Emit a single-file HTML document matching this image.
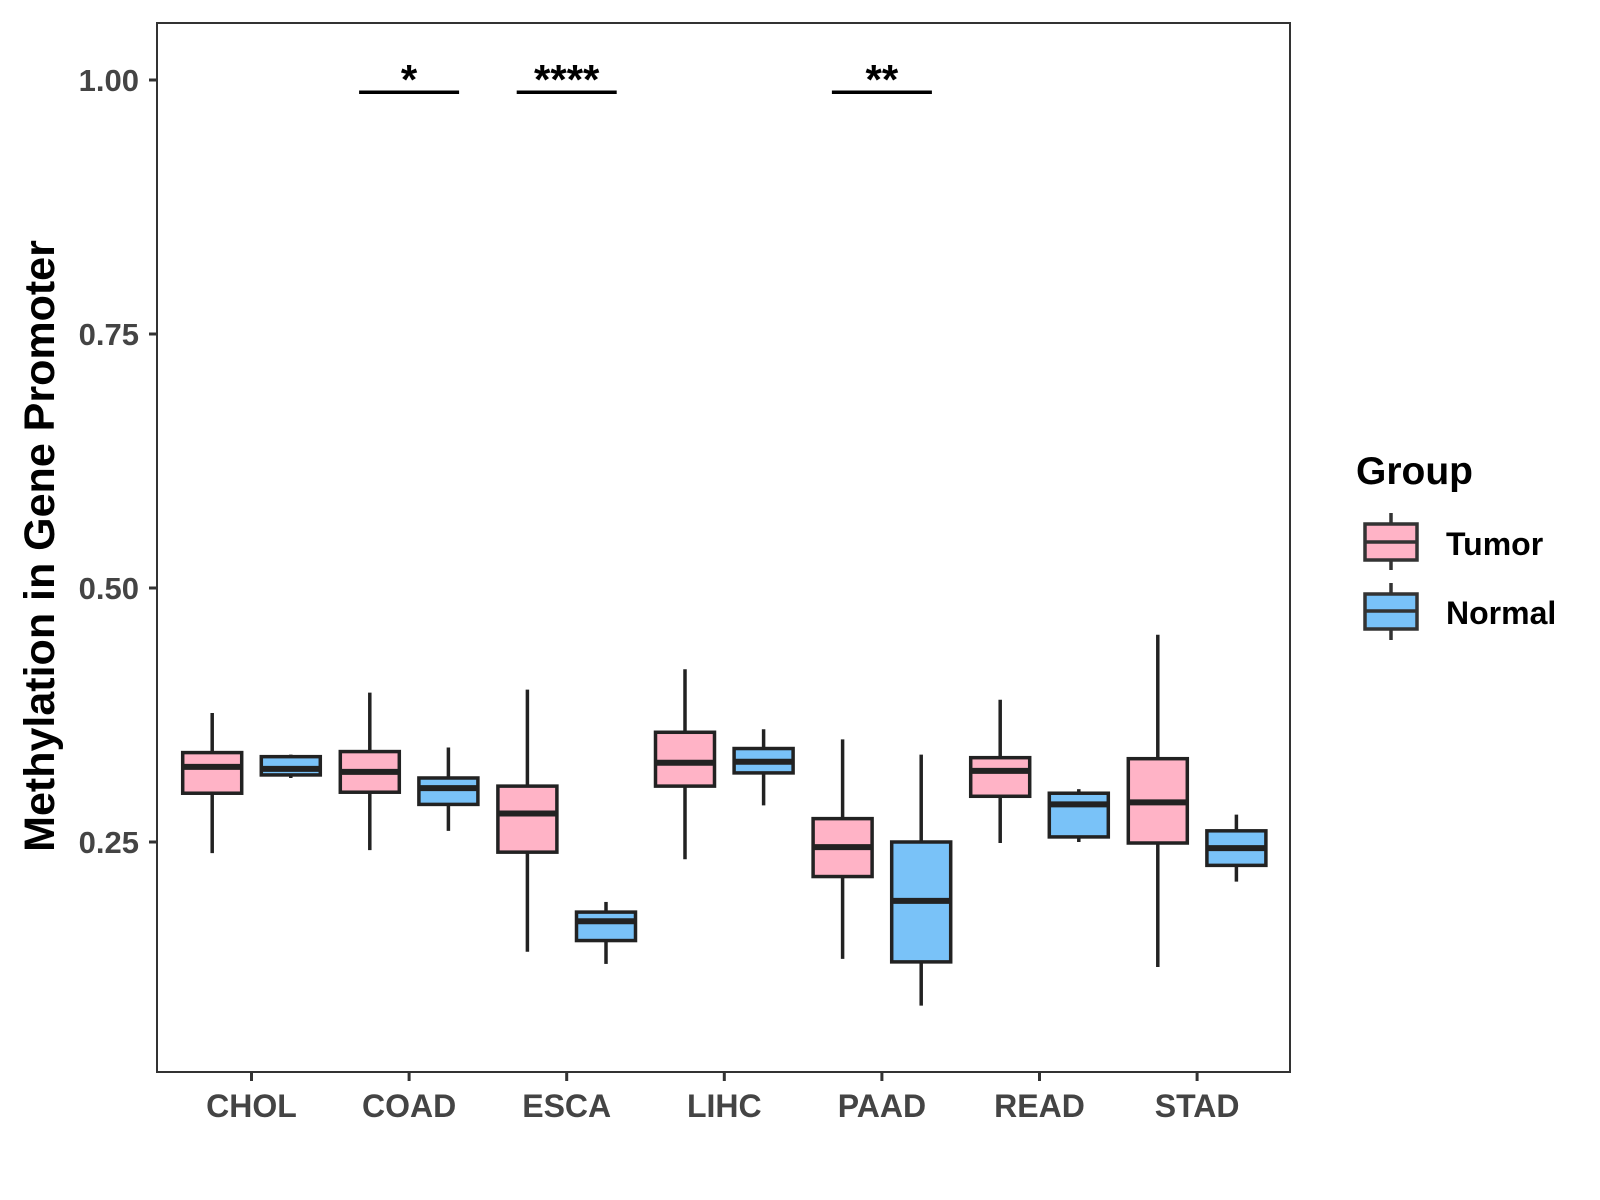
<!DOCTYPE html>
<html><head><meta charset="utf-8"><style>
html,body{margin:0;padding:0;background:#fff}
svg{display:block;font-family:"Liberation Sans",Arial,sans-serif}
</style></head><body>
<svg id="chart" width="1600" height="1200" viewBox="0 0 1600 1200">
<rect x="157" y="23" width="1133" height="1049" fill="#fff" stroke="#333" stroke-width="2"/>
<g id="axes"></g>
<g id="boxes"></g>
<g id="sig"></g>
<text x="0" y="0" transform="translate(54,546) rotate(-90)" text-anchor="middle" font-size="43" font-weight="bold" fill="#000">Methylation in Gene Promoter</text>
<g>
<text x="1356" y="484" font-size="39" font-weight="bold" fill="#000">Group</text>
<g>
<line x1="1391" y1="513" x2="1391" y2="570" stroke="#333" stroke-width="3.5"/>
<rect x="1365" y="524" width="52" height="36" fill="#ffb3c6" stroke="#333" stroke-width="3.5"/>
<line x1="1365" y1="542" x2="1417" y2="542" stroke="#333" stroke-width="3.5"/>
<text x="1446" y="555" font-size="32" font-weight="bold" fill="#000">Tumor</text>
</g>
<g>
<line x1="1391" y1="583" x2="1391" y2="640" stroke="#333" stroke-width="3.5"/>
<rect x="1365" y="594" width="52" height="35" fill="#79c2f8" stroke="#333" stroke-width="3.5"/>
<line x1="1365" y1="611" x2="1417" y2="611" stroke="#333" stroke-width="3.5"/>
<text x="1446" y="624" font-size="32" font-weight="bold" fill="#000">Normal</text>
</g>
</g>
</svg>
<script>
const categories=["CHOL","COAD","ESCA","LIHC","PAAD","READ","STAD"];
// [lowerWhisker, q1, median, q3, upperWhisker]
const tumorStats=[[0.239,0.298,0.324,0.338,0.377],[0.242,0.299,0.319,0.339,0.397],[0.142,0.240,0.278,0.305,0.400],[0.233,0.305,0.328,0.358,0.420],[0.135,0.216,0.245,0.273,0.351],[0.249,0.295,0.320,0.333,0.390],[0.127,0.249,0.289,0.332,0.454]];
const normalStats=[[0.313,0.316,0.322,0.334,0.336],[0.261,0.287,0.303,0.313,0.343],[0.130,0.153,0.172,0.181,0.191],[0.286,0.318,0.329,0.342,0.361],[0.089,0.132,0.192,0.250,0.336],[0.250,0.255,0.287,0.298,0.302],[0.211,0.227,0.244,0.261,0.277]];
const yTicks=[0.25,0.50,0.75,1.00];
const yTickLabels=["0.25","0.50","0.75","1.00"];
const sigCategories=["COAD","ESCA","PAAD"];
const sigLabels=["*","****","**"];
const sigLevel=0.988;

const NS="http://www.w3.org/2000/svg";
function y(v){return 80+(1-v)*1016;}
function x(i){return 251.5+i*157.6;}
function mk(tag,attrs,parent){const e=document.createElementNS(NS,tag);for(const k in attrs)e.setAttribute(k,attrs[k]);parent.appendChild(e);return e;}
const axes=document.getElementById('axes');
yTicks.forEach((v,i)=>{
  const t=mk('line',{x1:149,x2:157,y1:y(v),y2:y(v),stroke:'#333','stroke-width':3},axes);
  
  
  const l=mk('text',{x:139,y:y(v)+11,'text-anchor':'end','font-size':31,'font-weight':'bold',fill:'#444'},axes);
  l.textContent=yTickLabels[i];
  
  
});
categories.forEach((c,i)=>{
  const t=mk('line',{x1:x(i),x2:x(i),y1:1072,y2:1081,stroke:'#333','stroke-width':3},axes);
  
  
  const l=mk('text',{x:x(i),y:1117,'text-anchor':'middle','font-size':32,'font-weight':'bold',fill:'#444'},axes);
  l.textContent=c;
  
  
});
const boxes=document.getElementById('boxes');
function drawBox(cx,s,fill,name){
  const g=mk('g',{},boxes);
  
  
  mk('line',{x1:cx,x2:cx,y1:y(s[4]),y2:y(s[0]),stroke:'#222','stroke-width':3.5},g);
  mk('rect',{x:cx-29.5,y:y(s[3]),width:59,height:y(s[1])-y(s[3]),fill:fill,stroke:'#222','stroke-width':3.5},g);
  mk('line',{x1:cx-29.5,x2:cx+29.5,y1:y(s[2]),y2:y(s[2]),stroke:'#222','stroke-width':6},g);
}
categories.forEach((c,i)=>{
  drawBox(x(i)-39.3,tumorStats[i],'#ffb3c6','box-tumor-'+c.toLowerCase());
  drawBox(x(i)+39.3,normalStats[i],'#79c2f8','box-normal-'+c.toLowerCase());
});
const sig=document.getElementById('sig');
sigCategories.forEach((c,k)=>{
  const i=categories.indexOf(c);
  const ln=mk('line',{x1:x(i)-50,x2:x(i)+50,y1:y(sigLevel),y2:y(sigLevel),stroke:'#000','stroke-width':3.5},sig);
  
  
  const t=mk('text',{x:x(i),y:y(sigLevel)+2,'text-anchor':'middle','font-size':42,'font-weight':'bold',fill:'#000'},sig);
  t.textContent=sigLabels[k];
  
  
});
</script>
</body></html>
